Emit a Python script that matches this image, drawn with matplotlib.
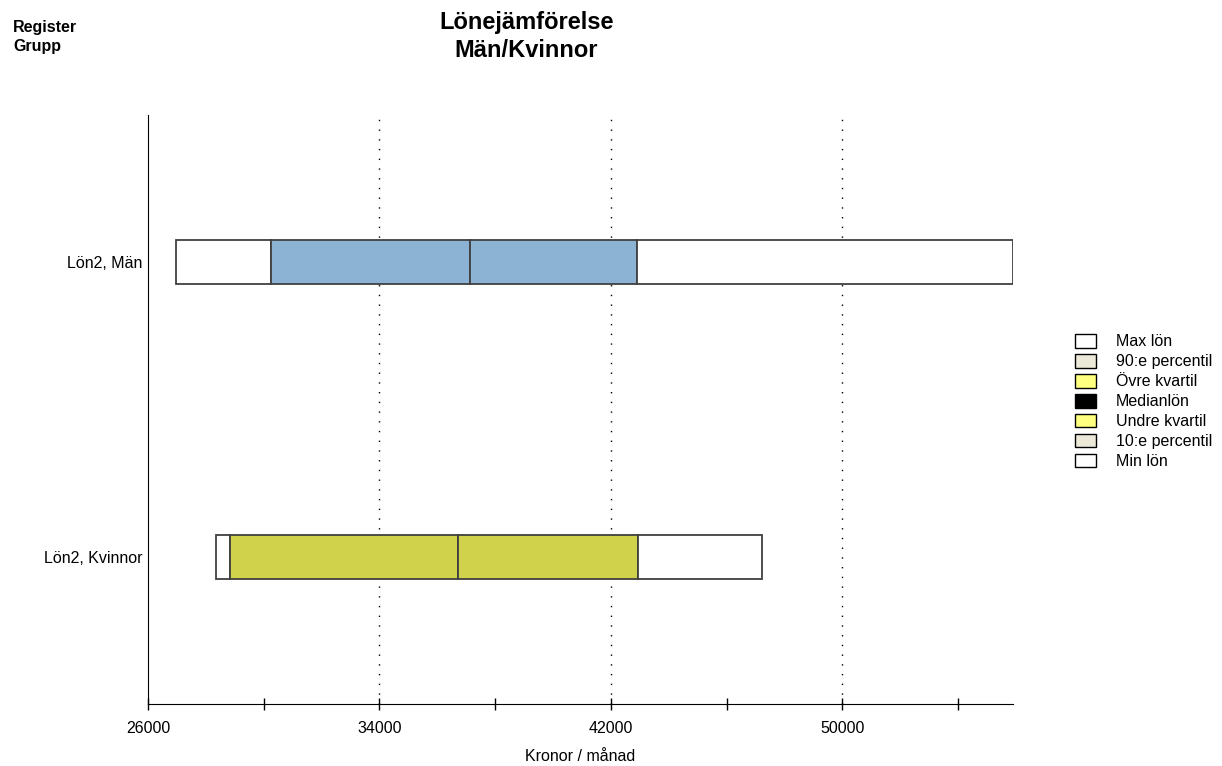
import matplotlib.pyplot as plt
from matplotlib.patches import Patch

# lönestatistik per grupp (kr/månad)
groups = ['Lön2, Kvinnor', 'Lön2, Män']
min_lon = [28360, 26970]
undre_kvartil = [28850, 30260]
median_lon = [36730, 37140]
ovre_kvartil = [42940, 42890]
max_lon = [47230, 55890]
bar_colors = ['#cfd24a', '#8db3d4']

legend_labels = ['Max lön', '90:e percentil', 'Övre kvartil', 'Medianlön',
                 'Undre kvartil', '10:e percentil', 'Min lön']
legend_colors = ['#ffffff', '#ece9d8', '#ffff80', '#000000',
                 '#ffff80', '#ece9d8', '#ffffff']

plt.rcParams['font.family'] = ['Liberation Sans', 'DejaVu Sans']

W, H = 1222, 766
fig = plt.figure(figsize=(W / 100, H / 100), dpi=100)
ax = fig.add_axes([148 / W, 1 - 704 / H, (1013 - 148) / W, (704 - 115) / H])

y = [0.5, 1.5]
h = 0.15
edge = '#404040'
for i in range(len(groups)):
    segs = [(min_lon[i], undre_kvartil[i], 'white'),
            (undre_kvartil[i], median_lon[i], bar_colors[i]),
            (median_lon[i], ovre_kvartil[i], bar_colors[i]),
            (ovre_kvartil[i], max_lon[i], 'white')]
    for a, b, c in segs:
        ax.barh(y[i], b - a, left=a, height=h, color=c, edgecolor=edge,
                linewidth=1.3, zorder=3)

ax.set_xlim(26000, 55900)
ax.set_ylim(0, 2)
ax.set_yticks(y)
ax.set_yticklabels(groups, fontsize=11.5)
ax.tick_params(axis='y', length=0, pad=4)

ax.set_xticks([26000, 34000, 42000, 50000])
ax.set_xticks([30000, 38000, 46000, 54000], minor=True)
ax.tick_params(axis='x', which='both', direction='inout', length=9,
               width=1, labelsize=11.5, pad=8)
for gx in [34000, 42000, 50000]:
    ax.axvline(gx, color='black', linestyle=(0, (1, 6)), linewidth=1, zorder=1)

for s in ['top', 'right']:
    ax.spines[s].set_visible(False)
ax.set_xlabel('Kronor / månad', fontsize=11.5)
ax.xaxis.set_label_coords(0.5, -(749 - 704) / (704 - 115))

fig.text(527 / W, 1 - 29 / H, 'Lönejämförelse', ha='center', va='baseline',
         fontsize=17, fontweight='bold')
fig.text(526 / W, 1 - 57 / H, 'Män/Kvinnor', ha='center', va='baseline',
         fontsize=17, fontweight='bold')
fig.text(13 / W, 1 - 32 / H, 'Register', ha='left', va='baseline',
         fontsize=11.5, fontweight='bold')
fig.text(13 / W, 1 - 51 / H, 'Grupp', ha='left', va='baseline',
         fontsize=11.5, fontweight='bold')

handles = [Patch(facecolor=c, edgecolor='black', linewidth=1) for c in legend_colors]
fig.legend(handles, legend_labels, loc='center left',
           bbox_to_anchor=(1075 / W, 1 - 401.5 / H), frameon=False,
           fontsize=11.5, handlelength=1.3, handleheight=0.94,
           handletextpad=1.25, labelspacing=0.29, borderpad=0,
           borderaxespad=0)

fig.savefig('out.png', dpi=100)
